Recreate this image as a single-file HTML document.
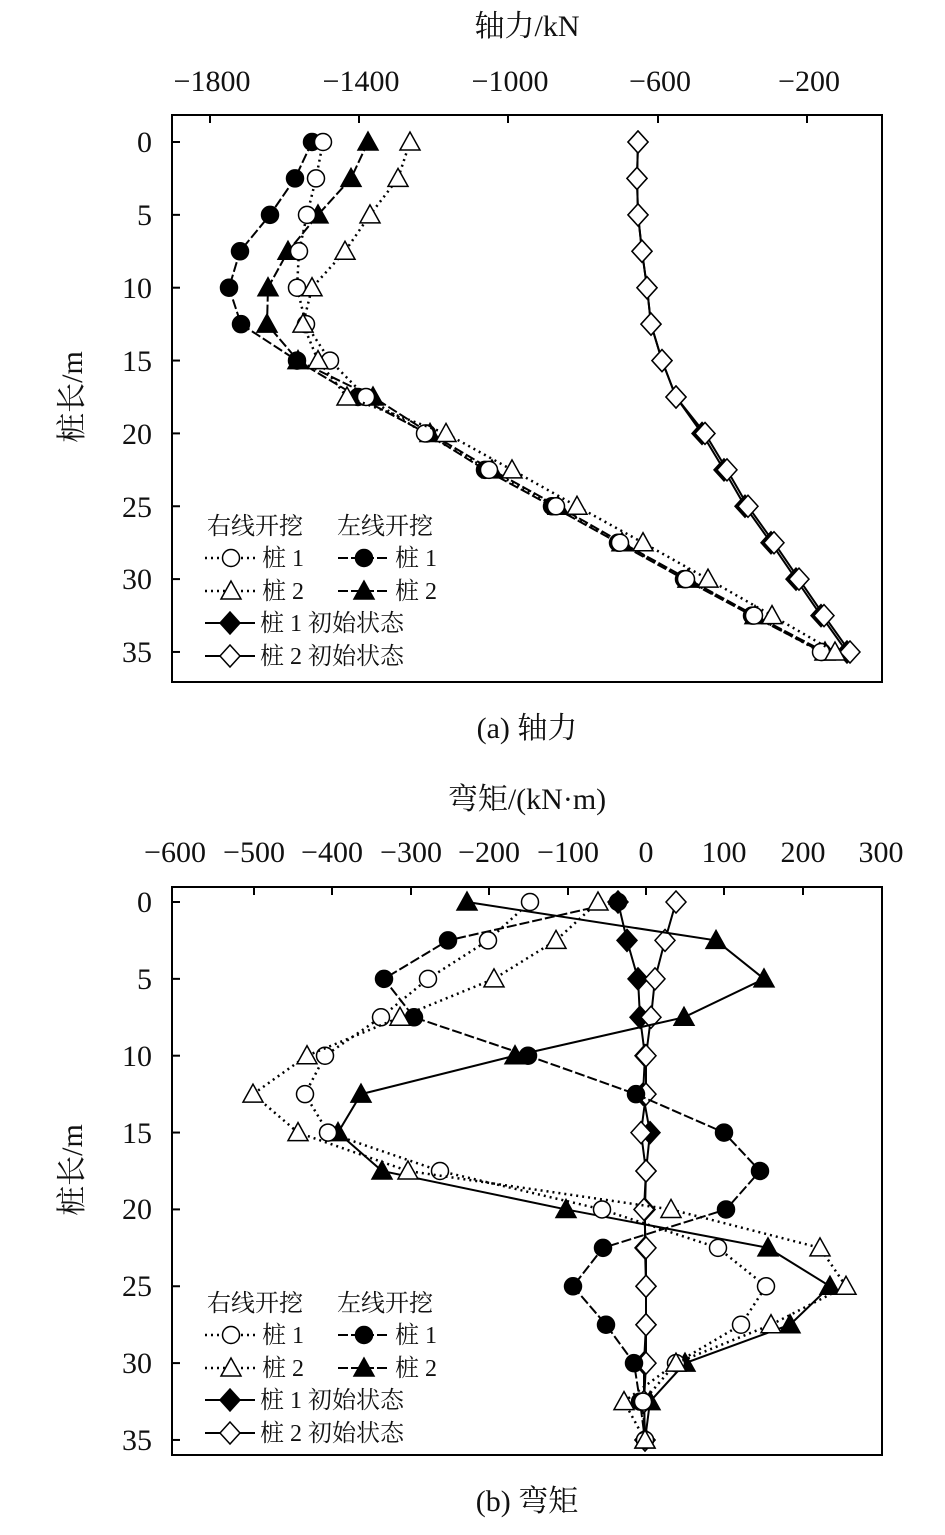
<!DOCTYPE html>
<html><head><meta charset="utf-8"><style>
body{margin:0;background:#fff;}
svg text{font-family:"Liberation Serif","Noto Serif CJK SC",serif;fill:#111;}
</style></head><body>
<svg id="s" width="945" height="1530" xmlns="http://www.w3.org/2000/svg">
<rect width="945" height="1530" fill="#fff"/>
<text x="527" y="36" font-size="30" text-anchor="middle">轴力/kN</text>
<g font-size="30" text-anchor="middle">
<text x="212" y="91">−1800</text><text x="361" y="91">−1400</text><text x="510" y="91">−1000</text><text x="660" y="91">−600</text><text x="809" y="91">−200</text>
</g>
<rect x="172" y="115" width="710" height="567" fill="none" stroke="#000" stroke-width="2"/>
<g font-size="30" text-anchor="end">
<text x="152" y="152">0</text><text x="152" y="225">5</text><text x="152" y="298">10</text><text x="152" y="371">15</text><text x="152" y="444">20</text><text x="152" y="517">25</text><text x="152" y="589">30</text><text x="152" y="662">35</text>
</g>
<text transform="translate(82,397) rotate(-90)" font-size="30" text-anchor="middle">桩长/m</text>
<text x="527" y="738" font-size="30" text-anchor="middle">(a) 轴力</text>

<text x="527" y="809" font-size="30" text-anchor="middle">弯矩/(kN·m)</text>
<g font-size="30" text-anchor="middle">
<text x="175" y="862">−600</text><text x="254" y="862">−500</text><text x="332" y="862">−400</text><text x="411" y="862">−300</text><text x="489" y="862">−200</text><text x="568" y="862">−100</text><text x="646" y="862">0</text><text x="724" y="862">100</text><text x="803" y="862">200</text><text x="881" y="862">300</text>
</g>
<rect x="172" y="887" width="710" height="568" fill="none" stroke="#000" stroke-width="2"/>
<g font-size="30" text-anchor="end">
<text x="152" y="912">0</text><text x="152" y="989">5</text><text x="152" y="1066">10</text><text x="152" y="1143">15</text><text x="152" y="1219">20</text><text x="152" y="1296">25</text><text x="152" y="1373">30</text><text x="152" y="1450">35</text>
</g>
<text transform="translate(82,1170) rotate(-90)" font-size="30" text-anchor="middle">桩长/m</text>
<text x="527" y="1511" font-size="30" text-anchor="middle">(b) 弯矩</text>
<g id="g"></g>
</svg>
<script>
var g=document.getElementById('g'),NS='http://www.w3.org/2000/svg';
function el(t,a){var e=document.createElementNS(NS,t);for(var k in a)e.setAttribute(k,a[k]);g.appendChild(e);return e;}
function txt(x,y,s,fs){var e=el('text',{x:x,y:y,'font-size':fs||24});e.textContent=s;}
function mk(type,x,y){
 var f=(type=='fc'||type=='ft'||type=='fd')?'#000':'#fff';
 if(type[1]=='c')el('circle',{cx:x,cy:y,r:8.5,fill:f,stroke:'#000','stroke-width':1.5});
 else if(type[1]=='t')el('polygon',{points:(x)+','+(y-10)+' '+(x-10)+','+(y+8)+' '+(x+10)+','+(y+8),fill:f,stroke:'#000','stroke-width':1.5});
 else el('polygon',{points:x+','+(y-11)+' '+(x+10)+','+y+' '+x+','+(y+11)+' '+(x-10)+','+y,fill:f,stroke:'#000','stroke-width':1.5});
}
var dash={o:'2,4',f:'10,3',s:''};
function series(xs,y0,dy,type,st){
 var p=xs.map(function(x,i){return x+','+(y0+i*dy)}).join(' ');
 el('polyline',{points:p,fill:'none',stroke:'#000','stroke-width':st=='o'?2.5:2,'stroke-dasharray':dash[st]});
 xs.forEach(function(x,i){mk(type,x,y0+i*dy)});
}
[210,359,508,658,807].forEach(function(x){el('line',{x1:x,y1:115,x2:x,y2:123,stroke:'#000','stroke-width':2})});
for(var d=0;d<=35;d+=5)el('line',{x1:172,y1:142+d*14.57,x2:180,y2:142+d*14.57,stroke:'#000','stroke-width':2});
[254,332,411,489,568,646,724,803].forEach(function(x){el('line',{x1:x,y1:887,x2:x,y2:895,stroke:'#000','stroke-width':2})});
for(var d=0;d<=35;d+=5)el('line',{x1:172,y1:902+d*15.37,x2:180,y2:902+d*15.37,stroke:'#000','stroke-width':2});
var ay=142,ady=36.43;
var aInit=[638,637,638,642,647,651,662,676,705,727,748,774,799,824,850];
series(aInit.map(function(v,i){return v+(i>7?-3:0)}),ay,ady,'fd','s');
series(aInit,ay,ady,'od','s');
series([312,295,270,240,229,241,297,358,427,485,552,618,684,752,822],ay,ady,'fc','f');
series([368,351,318,288,268,267,298,373,430,492,558,622,688,755,825],ay,ady,'ft','f');
series([323,316,307,299,297,306,330,366,425,489,556,620,686,754,821],ay,ady,'oc','o');
series([410,398,370,345,312,303,318,347,446,512,577,643,708,772,835],ay,ady,'ot','o');
var by=902,bdy=38.43;
series([618,627,638,640,645,643,650,646,645,645,646,646,644,644,645],by,bdy,'fd','s');
series([676,665,655,651,646,646,641,646,644,646,646,646,646,644,645],by,bdy,'od','s');
series([618,448,384,414,528,636,724,760,726,603,573,606,634,640,645],by,bdy,'fc','f');
series([467,716,764,684,515,361,338,382,566,768,830,790,685,650,645],by,bdy,'ft','s');
series([530,488,428,381,325,305,328,440,602,718,766,741,676,643,645],by,bdy,'oc','o');
series([598,556,494,400,307,253,298,408,671,820,846,771,676,624,645],by,bdy,'ot','o');
function legend(x0,y0){
 txt(x0+2,y0,'右线开挖');txt(x0+132,y0,'左线开挖');
 var rows=[[y0+32,'oc','fc'],[y0+65,'ot','ft']];
 rows.forEach(function(r){
  el('line',{x1:x0,y1:r[0]-8,x2:x0+52,y2:r[0]-8,stroke:'#000','stroke-width':2.5,'stroke-dasharray':'2,4'});mk(r[1],x0+26,r[0]-8);txt(x0+57,r[0],r[1]=='oc'?'桩 1':'桩 2');
  el('line',{x1:x0+133,y1:r[0]-8,x2:x0+185,y2:r[0]-8,stroke:'#000','stroke-width':2,'stroke-dasharray':'10,3'});mk(r[2],x0+159,r[0]-8);txt(x0+190,r[0],r[2]=='fc'?'桩 1':'桩 2');
 });
 [[y0+97,'fd','桩 1 初始状态'],[y0+130,'od','桩 2 初始状态']].forEach(function(r){
  el('line',{x1:x0,y1:r[0]-8,x2:x0+50,y2:r[0]-8,stroke:'#000','stroke-width':2});mk(r[1],x0+25,r[0]-8);txt(x0+55,r[0],r[2]);
 });
}
legend(205,534);
legend(205,1311);
</script>
</body></html>
